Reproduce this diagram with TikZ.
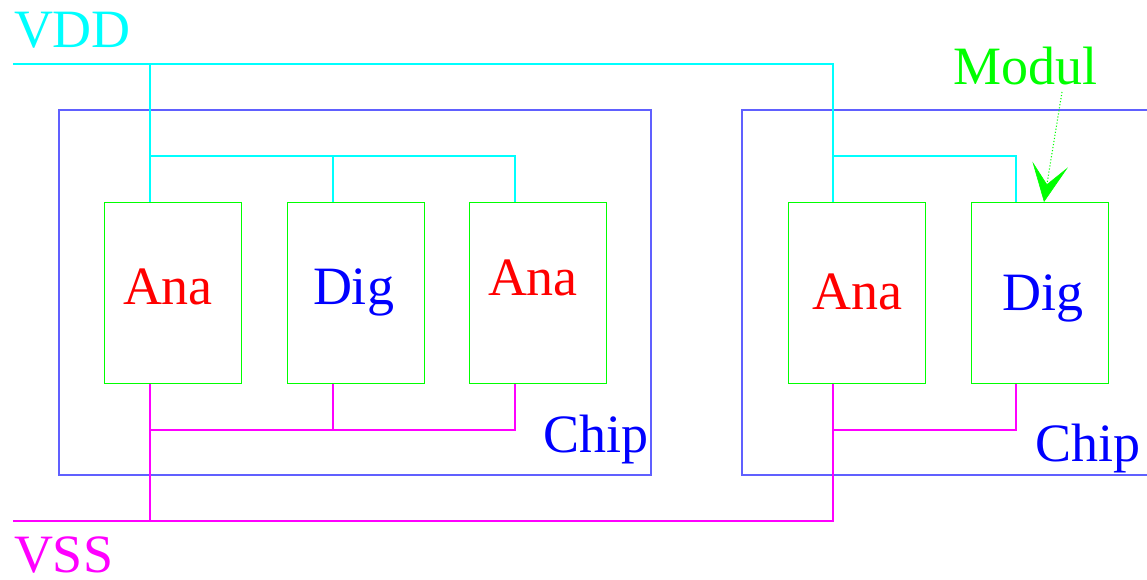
\documentclass[tikz,border=0pt]{standalone}
\usepackage{fontspec}
\setmainfont{Liberation Serif}
\usetikzlibrary{arrows.meta}
\definecolor{vddc}{HTML}{00FFFF}
\definecolor{vssc}{HTML}{FF00FF}
\definecolor{modc}{HTML}{00FF00}
\definecolor{chipc}{HTML}{6060FF}
\definecolor{txtblue}{HTML}{0000FF}
\definecolor{txtred}{HTML}{FF0000}
\begin{document}
\begin{tikzpicture}[x=1pt,y=-1pt,
  every node/.style={font=\fontsize{54}{60}\selectfont},
  lbl/.style={anchor=base west,inner sep=0pt,outer sep=0pt},
  modbox/.style={draw=modc,line width=1.2pt,minimum width=137pt,minimum height=181pt,inner sep=0pt,anchor=north west},
  chipbox/.style={draw=chipc,line width=1.2pt},
  vddw/.style={draw=vddc,line width=1.1pt},
  vssw/.style={draw=vssc,line width=1.1pt}]
\useasboundingbox (0,0) rectangle (1147,580);
% chips
\draw[chipbox] (59,110) rectangle (651,475);
\draw[chipbox] (1150,110) -- (742,110) -- (742,475) -- (1150,475);
% modules
\node[modbox] (a1) at (104,202) {};
\node[modbox] (d1) at (287,202) {};
\node[modbox] (a2) at (469,202) {};
\node[modbox] (a3) at (788,202) {};
\node[modbox] (d2) at (971,202) {};
% module labels
\node[lbl,text=txtred] (ta1) at (123,304) {Ana};
\node[lbl,text=txtblue] (td1) at (313,304) {Dig};
\node[lbl,text=txtred] (ta2) at (488,295) {Ana};
\node[lbl,text=txtred] (ta3) at (812,309) {Ana};
\node[lbl,text=txtblue] (td2) at (1002,310) {Dig};
% chip labels
\node[lbl,text=txtblue] (tc1) at (543,452) {Chip};
\node[lbl,text=txtblue] (tc2) at (1035,461) {Chip};
% supply labels
\node[lbl,text=vddc] (vdd) at (14,48) {VDD};
\node[lbl,text=vssc] (vss) at (14,572) {VSS};
\node[lbl,text=modc] (modul) at (953,85) {Modul};
% junction coordinates
\coordinate (vddS) at (13,64);
\coordinate (vddE) at (833,64);
\coordinate (jL) at (150,64);
\coordinate (jL2) at (150,156);
\coordinate (jR2) at (833,156);
\coordinate (vssS) at (13,521);
\coordinate (vssE) at (833,521);
\coordinate (kL) at (150,521);
\coordinate (kL2) at (150,430);
\coordinate (kR2) at (833,430);
% VDD wiring
\draw[vddw] (vddS) -- (vddE) -- (a3.north -| vddE);
\draw[vddw] (jL) -- (a1.north -| jL);
\draw[vddw] (jL2) -| (a2.north -| 515,0);
\draw[vddw] (d1.north -| 333,0) -- (333,156);
\draw[vddw] (jR2) -| (d2.north -| 1016,0);
% VSS wiring
\draw[vssw] (vssS) -- (vssE) -- (a3.south -| vssE);
\draw[vssw] (kL) -- (a1.south -| kL);
\draw[vssw] (kL2) -| (a2.south -| 515,0);
\draw[vssw] (d1.south -| 333,0) -- (333,430);
\draw[vssw] (kR2) -| (d2.south -| 1016,0);
% Modul arrow
\coordinate (mtail) at (1062,92);
\coordinate (mtip) at (1044,202);
\draw[draw=modc,line width=1.1pt,dotted,-{Stealth[length=38pt,width=36pt,inset=20pt,line width=0.6pt,fill=modc,sep=0pt]}] (mtail) -- (mtip);
\end{tikzpicture}
\end{document}
